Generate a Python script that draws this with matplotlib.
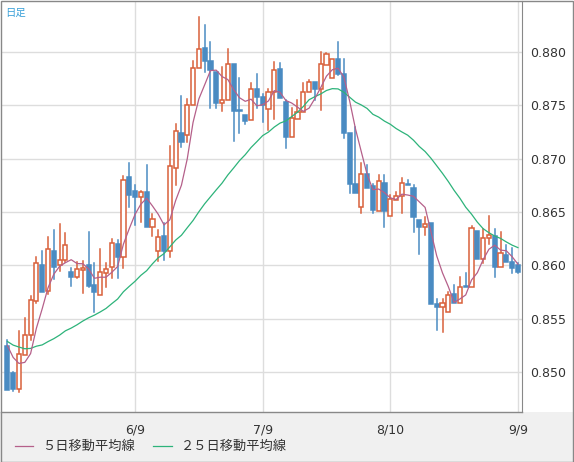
import matplotlib
matplotlib.use("Agg")
import matplotlib.pyplot as plt
from matplotlib.patches import Rectangle
from matplotlib.lines import Line2D
import numpy as np

plt.rcParams['font.family'] = ['Noto Sans CJK JP', 'DejaVu Sans']

# closes before the visible window (for 25-day MA)
prior_close = [0.8570,0.8562,0.8575,0.8560,0.8550,0.8545,0.8538,0.8530,0.8522,0.8518,0.8525,0.8520,
               0.8510,0.8505,0.8512,0.8520,0.8515,0.8508,0.8500,0.8510,0.8540,0.8545,0.8530,0.8527]

opens = [0.8525,0.8499,0.8484,0.8516,0.8535,0.8567,0.8600,0.8576,0.8614,0.8600,
         0.8605,0.8594,0.8589,0.8596,0.8600,0.8582,0.8572,0.8593,0.8599,0.8620,
         0.8608,0.8683,0.8670,0.8664,0.8669,0.8636,0.8614,0.8628,0.8614,0.8691,
         0.8724,0.8722,0.8750,0.8785,0.8804,0.8792,0.8781,0.8752,0.8755,0.8789,
         0.8746,0.8741,0.8736,0.8765,0.8758,0.8747,0.8763,0.8784,0.8753,0.8720,
         0.8737,0.8744,0.8763,0.8772,0.8765,0.8788,0.8776,0.8793,0.8779,0.8724,
         0.8676,0.8655,0.8686,0.8674,0.8651,0.8677,0.8646,0.8661,0.8665,0.8676,
         0.8673,0.8643,0.8636,0.8640,0.8564,0.8561,0.8556,0.8573,0.8565,0.8581,
         0.8580,0.8632,0.8606,0.8626,0.8628,0.8599,0.8610,0.8603,0.8600]
highs = [0.8530,0.8500,0.8539,0.8551,0.8571,0.8608,0.8614,0.8627,0.8633,0.8639,
         0.8630,0.8598,0.8603,0.8604,0.8631,0.8602,0.8615,0.8602,0.8625,0.8624,
         0.8684,0.8696,0.8675,0.8670,0.8694,0.8648,0.8633,0.8640,0.8712,0.8733,
         0.8759,0.8756,0.8792,0.8833,0.8825,0.8809,0.8781,0.8786,0.8803,0.8789,
         0.8776,0.8741,0.8771,0.8779,0.8761,0.8765,0.8791,0.8790,0.8755,0.8748,
         0.8755,0.8771,0.8774,0.8772,0.8800,0.8799,0.8793,0.8809,0.8793,0.8724,
         0.8730,0.8696,0.8694,0.8676,0.8685,0.8685,0.8666,0.8669,0.8682,0.8680,
         0.8675,0.8643,0.8645,0.8640,0.8569,0.8569,0.8575,0.8582,0.8589,0.8593,
         0.8637,0.8632,0.8634,0.8646,0.8634,0.8631,0.8619,0.8616,0.8602]
lows = [0.8483,0.8482,0.8481,0.8516,0.8530,0.8565,0.8575,0.8573,0.8587,0.8595,
        0.8603,0.8581,0.8588,0.8574,0.8580,0.8556,0.8572,0.8580,0.8588,0.8588,
        0.8598,0.8655,0.8638,0.8641,0.8636,0.8628,0.8604,0.8605,0.8608,0.8675,
        0.8711,0.8716,0.8750,0.8785,0.8781,0.8748,0.8748,0.8745,0.8755,0.8717,
        0.8724,0.8733,0.8736,0.8748,0.8734,0.8727,0.8737,0.8757,0.8710,0.8720,
        0.8737,0.8744,0.8763,0.8755,0.8746,0.8788,0.8776,0.8778,0.8719,0.8668,
        0.8668,0.8649,0.8673,0.8649,0.8651,0.8636,0.8646,0.8661,0.8649,0.8675,
        0.8631,0.8611,0.8629,0.8564,0.8540,0.8538,0.8556,0.8565,0.8565,0.8580,
        0.8580,0.8606,0.8602,0.8620,0.8589,0.8599,0.8603,0.8593,0.8593]
closes = [0.8483,0.8484,0.8517,0.8535,0.8568,0.8602,0.8575,0.8615,0.8599,0.8605,
          0.8619,0.8589,0.8597,0.8598,0.8581,0.8575,0.8594,0.8597,0.8621,0.8608,
          0.8680,0.8666,0.8664,0.8669,0.8636,0.8644,0.8627,0.8614,0.8693,0.8726,
          0.8716,0.8750,0.8785,0.8803,0.8792,0.8783,0.8752,0.8755,0.8789,0.8745,
          0.8745,0.8735,0.8765,0.8758,0.8750,0.8763,0.8783,0.8757,0.8720,0.8738,
          0.8744,0.8763,0.8772,0.8765,0.8789,0.8798,0.8793,0.8779,0.8724,0.8676,
          0.8668,0.8686,0.8673,0.8652,0.8679,0.8651,0.8662,0.8665,0.8677,0.8675,
          0.8645,0.8636,0.8639,0.8564,0.8561,0.8565,0.8572,0.8565,0.8580,0.8580,
          0.8635,0.8606,0.8626,0.8629,0.8599,0.8612,0.8603,0.8598,0.8594]

tick_pos = [22, 44, 66, 88]
tick_labels = ['6/9', '7/9', '8/10', '9/9']
y_ticks = [0.850, 0.855, 0.860, 0.865, 0.870, 0.875, 0.880]

UP = '#d9603b'; DOWN = '#4a8bc2'; MA5C = '#b5608a'; MA25C = '#2db37a'

allc = np.array(prior_close + closes)
n = len(closes)
off = len(prior_close)
ma5 = np.array([allc[off+i-4:off+i+1].mean() for i in range(n)])
ma25 = np.array([allc[off+i-24:off+i+1].mean() for i in range(n)])

W, H = 574, 462
fig = plt.figure(figsize=(W/100, H/100), dpi=100, facecolor='#f0f0f0')
fig.patches.append(Rectangle((0, 50/H), 1, 1 - 50/H, transform=fig.transFigure, facecolor='white', edgecolor='none', zorder=-10))
fig.patches.append(Rectangle((0.5/W, 0.5/H), 1 - 1.5/W, 1 - 1.5/H, transform=fig.transFigure, fill=False, edgecolor='#888888', lw=1, zorder=10))

ax = fig.add_axes([1/W, 50/H, 521/W, 411/H])
ax.set_facecolor('white')
x = np.arange(n)
ax.set_xlim(-1.1, 88.7)
ax.set_ylim(0.84627, 0.88478)
for t in tick_pos:
    ax.axvline(t, color='#dddddd', lw=1, zorder=0)
for t in y_ticks:
    ax.axhline(t, color='#dddddd', lw=1, zorder=0)

bw = 0.72
for i in range(n):
    o, h, l, c = opens[i], highs[i], lows[i], closes[i]
    up = c >= o
    col = UP if up else DOWN
    lo, hi = min(o, c), max(o, c)
    ax.plot([i, i], [l, lo], color=col, lw=1.1, zorder=2)
    ax.plot([i, i], [hi, h], color=col, lw=1.1, zorder=2)
    body_h = max(hi - lo, 0.00004)
    ax.add_patch(Rectangle((i - bw/2, lo), bw, body_h, facecolor='white' if up else DOWN,
                           edgecolor=col, lw=1.1, zorder=3))

ax.plot(x, ma25, color=MA25C, lw=0.9, zorder=4)
ax.plot(x, ma5, color=MA5C, lw=0.9, zorder=4)

ax.yaxis.tick_right()
ax.set_yticks(y_ticks)
ax.set_yticklabels([f'{v:.3f}' for v in y_ticks], fontsize=9, color='#333333', family='DejaVu Sans')
ax.set_xticks(tick_pos)
ax.set_xticklabels(tick_labels, fontsize=9, color='#333333', family='DejaVu Sans')
ax.tick_params(length=0, pad=6)
ax.tick_params(axis='x', pad=8)
for s in ['top', 'left', 'bottom']:
    ax.spines[s].set_visible(False)
ax.spines['right'].set_color('#888888')
ax.plot([0, 1], [0, 0], transform=ax.transAxes, color='#888888', lw=1, clip_on=False)

ax.text(4/521, 1 - 12/411, '日足', transform=ax.transAxes, fontsize=7.5, color='#3aa0d8', va='center')

ly = 1 - 446/H
fig.add_artist(Line2D([15/W, 33/W], [ly, ly], color=MA5C, lw=0.9))
fig.text(42/W, ly, '５日移動平均線', fontsize=9.5, color='#333333', va='center')
fig.add_artist(Line2D([153/W, 172/W], [ly, ly], color=MA25C, lw=0.9))
fig.text(181/W, ly, '２５日移動平均線', fontsize=9.5, color='#333333', va='center')

fig.savefig('out.png', dpi=100, facecolor=fig.get_facecolor())
